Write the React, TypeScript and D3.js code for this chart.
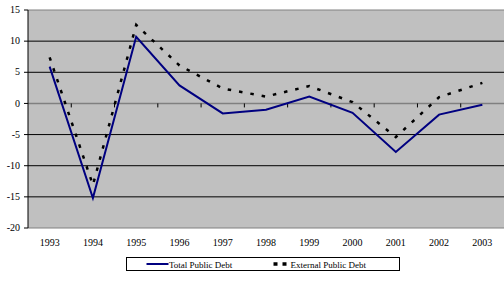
import * as d3 from 'd3';

const years = ['1993', '1994', '1995', '1996', '1997', '1998', '1999', '2000', '2001', '2002', '2003'];
const totalDebt = [5.9, -15.2, 10.7, 2.9, -1.6, -1.0, 1.1, -1.5, -7.8, -1.8, -0.2];
const externalDebt = [7.4, -13.1, 12.6, 6.1, 2.4, 1.1, 2.8, 0.2, -5.4, 1.0, 3.3];
const yTicks = [15, 10, 5, 0, -5, -10, -15, -20];

const W = 504;
const H = 282;
const margin = { top: 10, right: 0, bottom: 54, left: 28 };

export default function App() {
  const w = W - margin.left - margin.right;
  const h = H - margin.top - margin.bottom;

  const x = d3.scaleBand().domain(years).range([0, w]);
  const y = d3.scaleLinear().domain([-20, 15]).range([h, 0]);
  const cx = (i: number) => (x(years[i]) ?? 0) + x.bandwidth() / 2;

  const line = d3.line<number>().x((_, i) => cx(i)).y(d => y(d));

  const font = '"Liberation Serif", "Times New Roman", serif';

  return (
    <svg width={W} height={H} style={{ position: 'absolute', left: 0, top: 0, fontFamily: font }}>
      <g transform={`translate(${margin.left},${margin.top})`}>
        <rect x={0} y={0} width={w} height={h} fill="#c0c0c0" />
        {/* grid */}
        {yTicks.map(t => (
          <line key={t} x1={0} x2={w} y1={y(t)} y2={y(t)}
            stroke={t === 15 || t === -20 || t === 0 ? '#808080' : '#000'} strokeWidth={t === 0 ? 1.5 : 1} />
        ))}
        {/* category ticks on zero axis */}
        {years.map((yr, i) => i > 0 && (
          <line key={yr} x1={x(yr)} x2={x(yr)} y1={y(0)} y2={y(0) + 4} stroke="#000" />
        ))}
        {/* left axis */}
        <line x1={0} x2={0} y1={0} y2={h} stroke="#000" />
        {yTicks.map(t => (
          <g key={t} transform={`translate(0,${y(t)})`}>
            <line x1={-4} x2={0} stroke="#000" />
            <text x={-8} dy="0.32em" textAnchor="end" fontSize={10}>{t}</text>
          </g>
        ))}
        {years.map(yr => (
          <text key={yr} x={(x(yr) ?? 0) + x.bandwidth() / 2} y={h + 18} textAnchor="middle" fontSize={10}>{yr}</text>
        ))}
        <path d={line(externalDebt) ?? ''} fill="none" stroke="#000" strokeWidth={2.5} strokeDasharray="3.5,8" />
        <path d={line(totalDebt) ?? ''} fill="none" stroke="#000080" strokeWidth={2} />
      </g>
      {/* legend */}
      <g transform="translate(126.5,257.5)">
        <rect x={0} y={0} width={273} height={13} fill="#fff" stroke="#000" />
        <line x1={20} x2={42} y1={6.5} y2={6.5} stroke="#000080" strokeWidth={2} />
        <text x={42.5} y={10} fontSize={9}>Total Public Debt</text>
        <line x1={147} x2={160} y1={6.5} y2={6.5} stroke="#000" strokeWidth={3.5} strokeDasharray="4,5" />
        <text x={164} y={10} fontSize={9}>External Public Debt</text>
      </g>
    </svg>
  );
}
